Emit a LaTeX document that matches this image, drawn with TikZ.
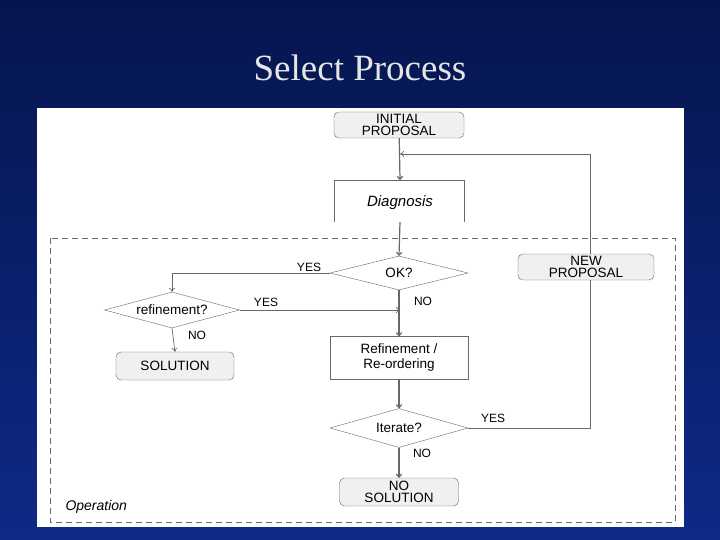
\documentclass[tikz,border=0pt]{standalone}
\usepackage{fontspec}
\setmainfont{Liberation Sans}
\newfontfamily\titlefont{Liberation Serif}
\usetikzlibrary{shapes.geometric,arrows.meta}
\definecolor{bgblue}{HTML}{0E2A86}
\definecolor{bgdark}{HTML}{06154F}
\definecolor{linegray}{HTML}{686868}
\begin{document}
\begin{tikzpicture}[x=1pt,y=-1pt,
  every node/.style={font=\fontsize{12}{12}\selectfont},
  term/.style={draw=linegray,rounded corners=5pt,fill=black!6,inner sep=0pt,align=center,font=\fontsize{13.5}{12.5}\selectfont},
  proc/.style={draw=linegray,inner sep=0pt,align=center,font=\fontsize{13.5}{15}\selectfont},
  dec/.style={draw=linegray,diamond,aspect=3.6,inner sep=0pt,font=\fontsize{13.5}{12}\selectfont},
  flow/.style={draw=linegray,line width=1.2pt,-{To[length=4pt,width=6pt]}},
  thin flow/.style={draw=linegray,line width=0.7pt,-{To[length=4pt,width=6pt]}},
  lbl/.style={font=\fontsize{12}{12}\selectfont}]
\useasboundingbox (0,0) rectangle (720,540);
% background and panel
\shade[top color=bgdark,bottom color=bgblue] (0,0) rectangle (720,540);
\fill[white] (37,108) rectangle (684,527);
\node[font=\titlefont\fontsize{37}{37}\selectfont,text=black!10] (title) at (360,68) {Select Process};
% operation frame
\draw[linegray,dashed,dash pattern=on 6pt off 4pt] (50,238) rectangle (675,522);
\node[font=\itshape\fontsize{14}{14}\selectfont,anchor=west] (op) at (62,507) {Operation};
% nodes
\node[term,minimum width=130,minimum height=26] (init) at (399,125) {INITIAL\\PROPOSAL};
\node[font=\itshape\fontsize{15}{15}\selectfont] (diag) at (400,203) {Diagnosis};
\draw[linegray,line width=0.8pt] (334,222) -- (334,180) -- (464,180) -- (464,222);
\coordinate (diagtop) at (400,180);
\coordinate (diagbot) at (400,222);
\node[dec,minimum width=138,minimum height=34] (ok) at (399,273) {OK?};
\node[dec,minimum width=135,minimum height=36] (ref) at (172,310) {refinement?};
\node[term,minimum width=118,minimum height=28] (sol) at (175,366) {SOLUTION};
\node[proc,minimum width=138,minimum height=43] (reord) at (399,358) {Refinement /\\Re-ordering};
\node[dec,minimum width=138,minimum height=39] (iter) at (399,428) {Iterate?};
\node[term,minimum width=119,minimum height=28] (nosol) at (399,492) {NO\\SOLUTION};
\node[term,minimum width=136,minimum height=26] (newp) at (586,267) {NEW\\PROPOSAL};
\coordinate (ret) at (400,154);
\coordinate (retc) at (590,154);
\coordinate (iterc) at (590,428);
\coordinate (refin) at (400,310);
\coordinate (okyes) at (172,273);
% connectors
\draw[flow] (init) -- (diagtop);
\draw[flow] (diagbot) -- (ok.north);
\draw[flow] (ok.south) -- (reord.north);
\draw[flow] (reord.south) -- (iter.north);
\draw[flow] (iter.south) -- (nosol.north);
\draw[thin flow] (ok.west) -- (okyes) -- (ref.north);
\draw[thin flow] (ref.east) -- (refin);
\draw[thin flow] (ref.south) -- (sol.north);
\draw[linegray,line width=0.9pt] (iter.east) -- (iterc) -- (newp.south -| iterc);
\draw[thin flow] (newp.north -| retc) -- (retc) -- (ret);
% labels
\node[lbl] at (309,267) {YES};
\node[lbl] at (423,301) {NO};
\node[lbl] at (266,302) {YES};
\node[lbl] at (197,335) {NO};
\node[lbl] at (493,418) {YES};
\node[lbl] at (422,453) {NO};
\end{tikzpicture}
\end{document}
